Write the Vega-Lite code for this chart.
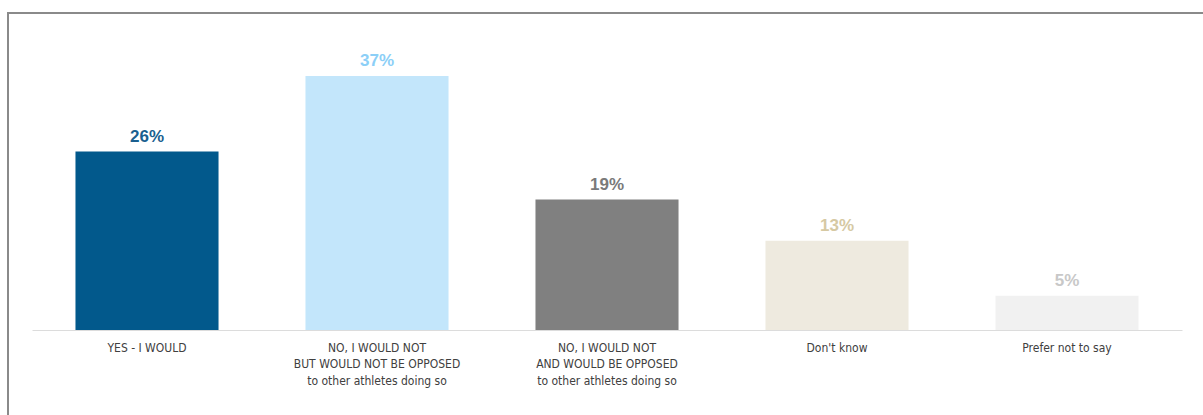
{
  "$schema": "https://vega.github.io/schema/vega-lite/v6.json",
  "autosize": "none",
  "width": 1195,
  "height": 402,
  "padding": {"left": 8, "top": 13, "right": 0, "bottom": 0},
  "background": "white",
  "config": {
    "view": {"stroke": "#8a8a8a", "strokeWidth": 2, "strokeDash": [1195, 1597, 402]}
  },
  "data": {
    "values": [
      {"cat": "YES - I WOULD", "value": 26, "label": "26%"},
      {"cat": "NO, I WOULD NOT\nBUT WOULD NOT BE OPPOSED\nto other athletes doing so", "value": 37, "label": "37%"},
      {"cat": "NO, I WOULD NOT\nAND WOULD BE OPPOSED\nto other athletes doing so", "value": 19, "label": "19%"},
      {"cat": "Don't know", "value": 13, "label": "13%"},
      {"cat": "Prefer not to say", "value": 5, "label": "5%"}
    ]
  },
  "encoding": {
    "x": {
      "field": "cat",
      "type": "nominal",
      "sort": null,
      "scale": {"range": [24, 1174], "paddingInner": 0.378, "paddingOuter": 0.189},
      "axis": {
        "title": null,
        "orient": "bottom",
        "offset": -85,
        "domainColor": "#dcdcdc",
        "domainWidth": 1,
        "ticks": false,
        "labelAngle": 0,
        "labelPadding": 12,
        "labelFont": "DejaVu Sans Condensed, Liberation Sans",
        "labelFontSize": 12,
        "labelColor": "#404040",
        "labelLineHeight": 16.5,
        "labelBaseline": "top",
        "labelLimit": 300,
        "labelExpr": "split(datum.label, '\\n')"
      }
    },
    "y": {
      "field": "value",
      "type": "quantitative",
      "scale": {"domain": [0, 37], "range": [317, 63], "nice": false},
      "axis": null
    }
  },
  "layer": [
    {
      "mark": {"type": "bar"},
      "encoding": {
        "color": {
          "field": "cat",
          "type": "nominal",
          "legend": null,
          "scale": {
            "domain": [
              "YES - I WOULD",
              "NO, I WOULD NOT\nBUT WOULD NOT BE OPPOSED\nto other athletes doing so",
              "NO, I WOULD NOT\nAND WOULD BE OPPOSED\nto other athletes doing so",
              "Don't know",
              "Prefer not to say"
            ],
            "range": ["#02598c", "#c3e6fb", "#808080", "#eeeadf", "#f1f1f1"]
          }
        }
      }
    },
    {
      "mark": {"type": "text", "dy": -10, "baseline": "alphabetic", "font": "Liberation Sans", "fontWeight": "bold", "fontSize": 17},
      "encoding": {
        "text": {"field": "label"},
        "color": {
          "field": "cat",
          "type": "nominal",
          "legend": null,
          "scale": {
            "domain": [
              "YES - I WOULD",
              "NO, I WOULD NOT\nBUT WOULD NOT BE OPPOSED\nto other athletes doing so",
              "NO, I WOULD NOT\nAND WOULD BE OPPOSED\nto other athletes doing so",
              "Don't know",
              "Prefer not to say"
            ],
            "range": ["#1a5f8f", "#8ccff7", "#7a7a7a", "#d6c9a3", "#c8c8c8"]
          }
        }
      }
    }
  ],
  "resolve": {"scale": {"color": "independent"}}
}
